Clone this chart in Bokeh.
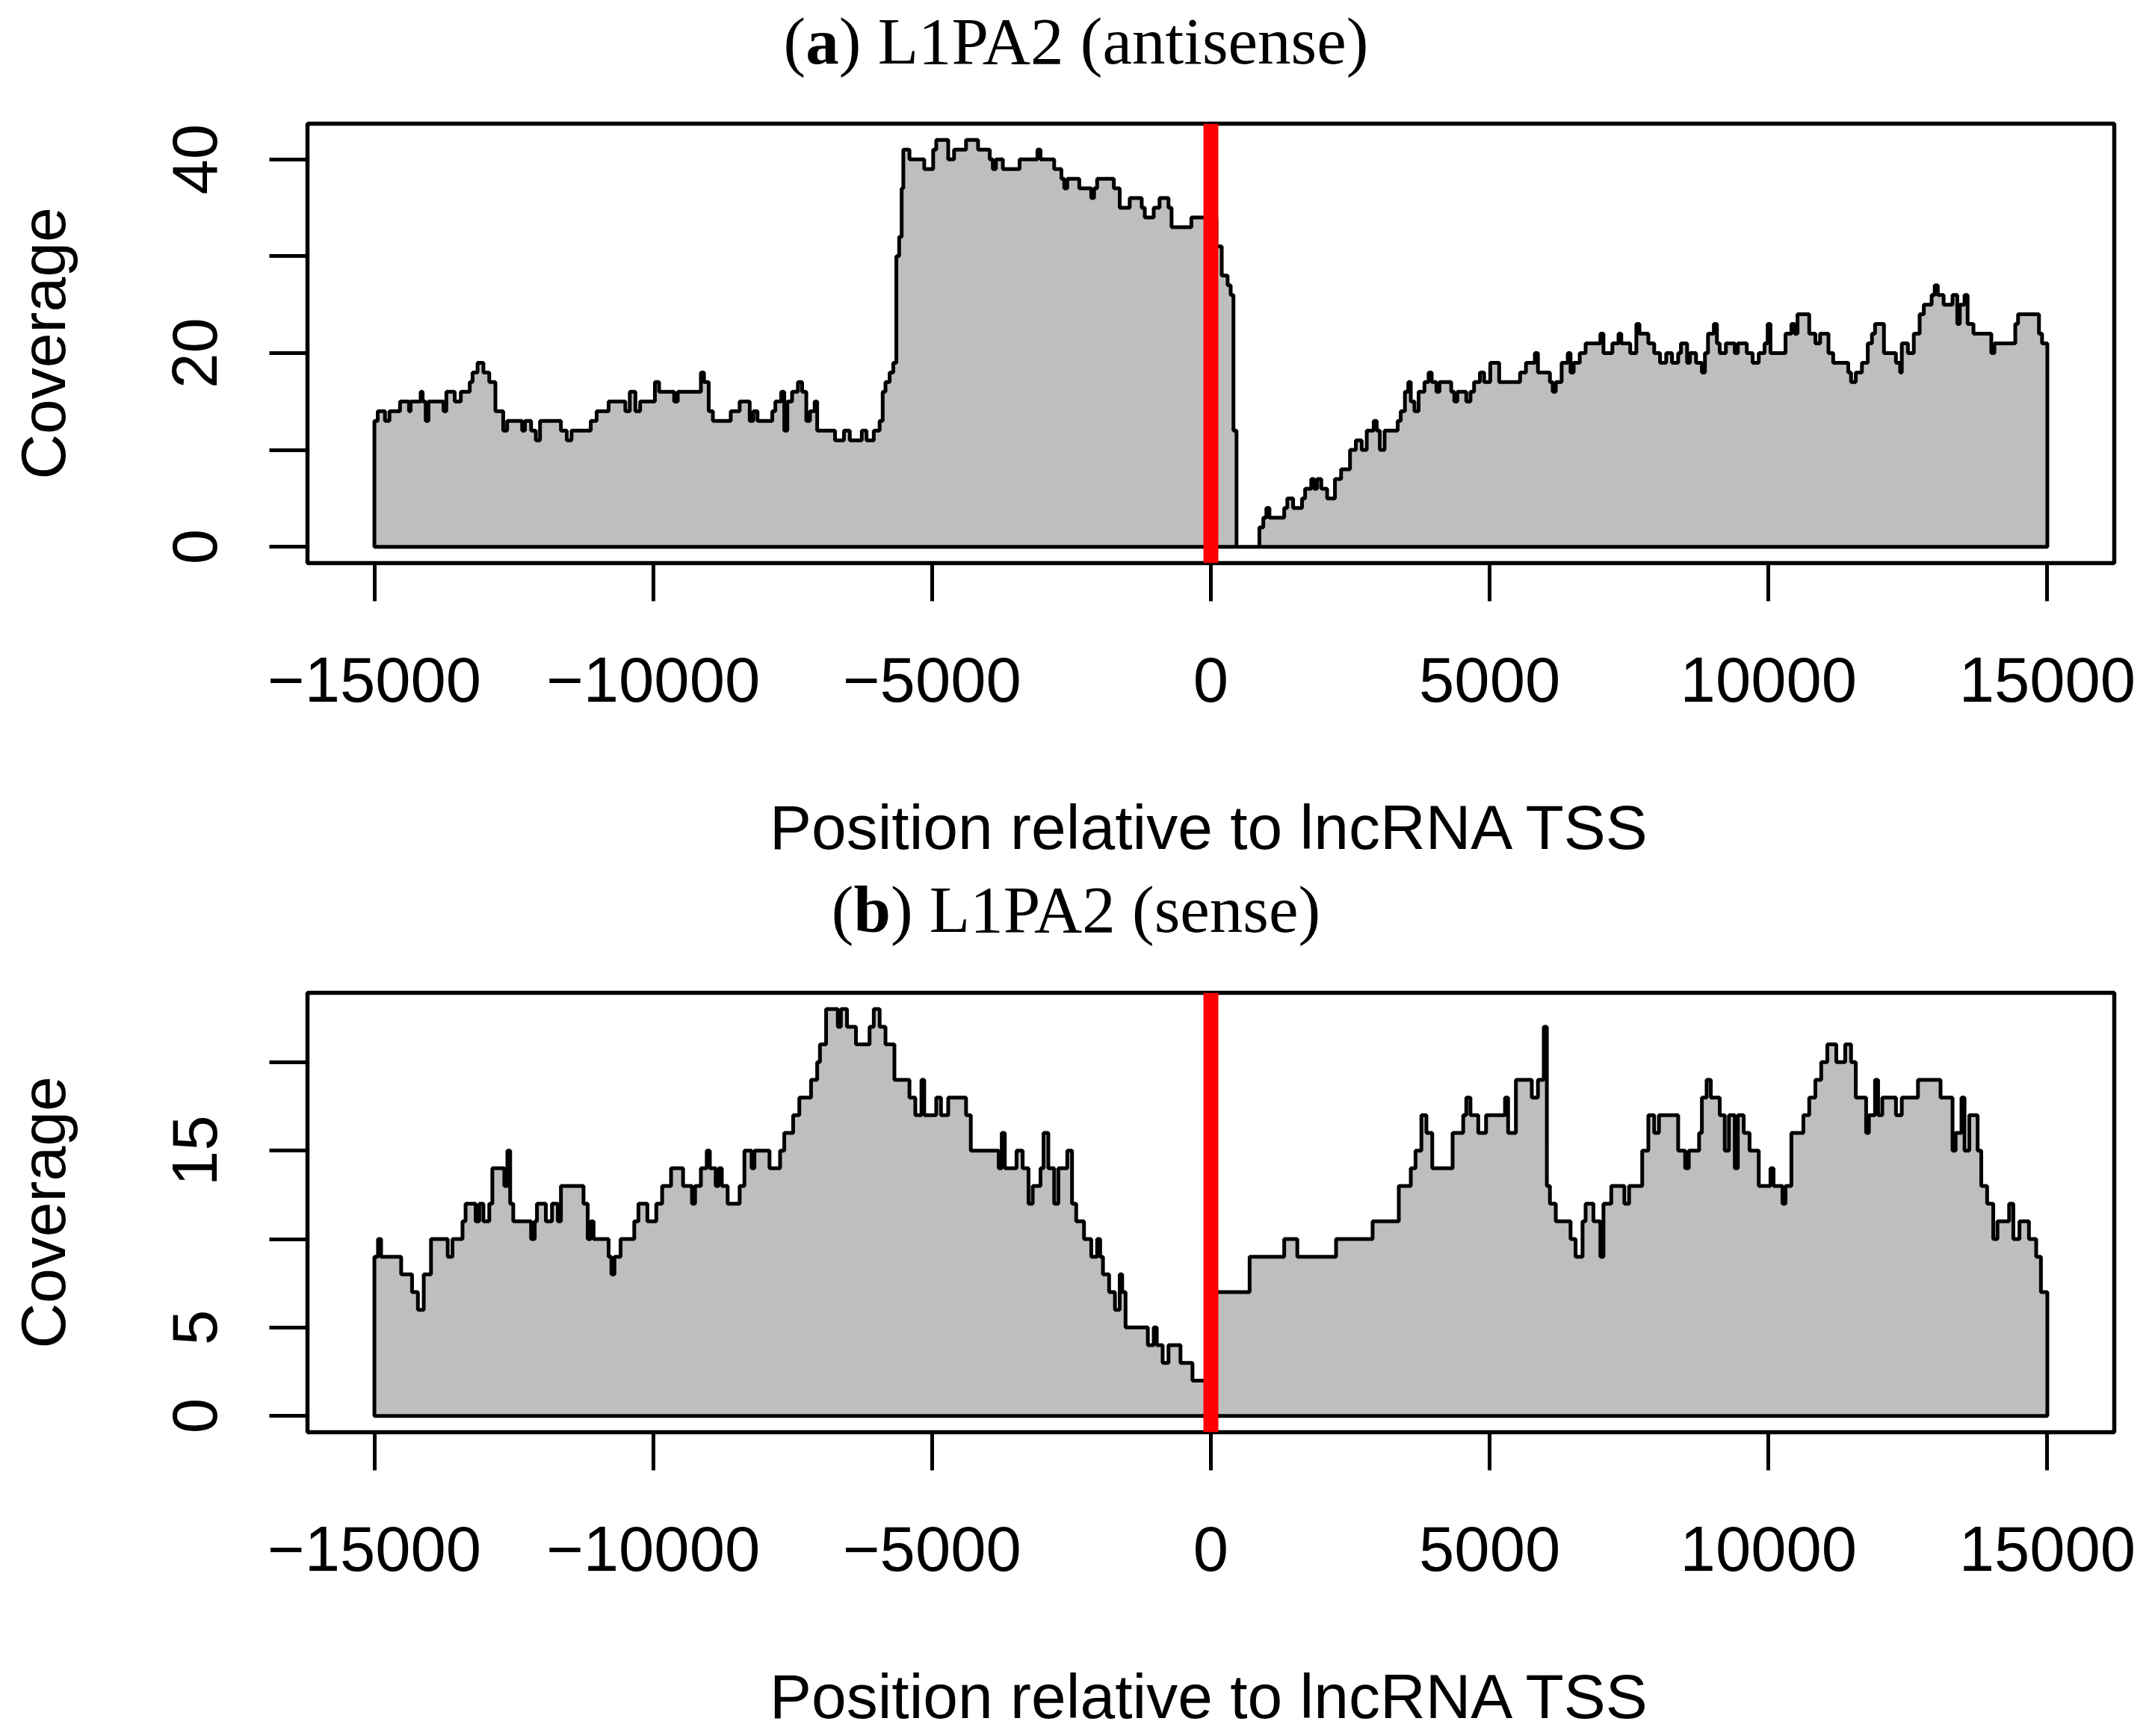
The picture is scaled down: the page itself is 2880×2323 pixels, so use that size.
from bokeh.plotting import figure
from bokeh.models import Range1d, FixedTicker, Span, Div
from bokeh.layouts import column
from bokeh.embed import file_html
from bokeh.resources import INLINE

# ---------------- data ----------------
X_START = -15000
X_END = 15000
X_TICKS = [-15000, -10000, -5000, 0, 5000, 10000, 15000]
X_TICK_LABELS = ["\u221215000", "\u221210000", "\u22125000", "0", "5000", "10000", "15000"]

# panel (a): L1PA2 antisense -- step starts (bp) and coverage
A_POS = [-15000, -14940, -14810, -14730, -14540, -14380, -14350, -14170, -14135, -14080,
         -14030, -13760, -13710, -13560, -13450, -13290, -13240, -13150, -13045, -12940,
         -12830, -12690, -12620, -12350, -12300, -12190, -12105, -12030, -11655, -11550,
         -11465, -11120, -11015, -10800, -10500, -10420, -10320, -10235, -9970, -9895,
         -9625, -9560, -9145, -9090, -9005, -8930, -8610, -8450, -8270, -8205,
         -8130, -7865, -7810, -7705, -7650, -7595, -7510, -7405, -7330, -7255,
         -7190, -7105, -7060, -6740, -6580, -6475, -6260, -6175, -6045, -5940,
         -5885, -5835, -5760, -5695, -5640, -5590, -5545, -5515, -5405, -5140,
         -4980, -4925, -4710, -4605, -4390, -4175, -3965, -3910, -3855, -3730,
         -3430, -3110, -3055, -2810, -2680, -2630, -2575, -2360, -2145, -2095,
         -2040, -1740, -1635, -1455, -1240, -1185, -1025, -920, -760, -705,
         -350, 100, 195, 300, 355, 405, 460, 870, 940, 995,
         1050, 1315, 1370, 1475, 1635, 1690, 1800, 1850, 1905, 1980,
         2085, 2225, 2335, 2495, 2600, 2705, 2795, 2920, 2975, 3030,
         3115, 3350, 3405, 3480, 3540, 3585, 3650, 3725, 3830, 3905,
         3960, 4045, 4100, 4310, 4365, 4420, 4580, 4655, 4720, 4825,
         4900, 5010, 5170, 5545, 5650, 5810, 5865, 6080, 6130, 6185,
         6290, 6400, 6450, 6505, 6615, 6720, 6985, 7040, 7200, 7310,
         7360, 7520, 7630, 7685, 7845, 7950, 8055, 8165, 8270, 8380,
         8430, 8540, 8590, 8700, 8805, 8860, 8915, 9020, 9075, 9125,
         9235, 9395, 9450, 9610, 9715, 9825, 9930, 9985, 10035, 10305,
         10410, 10465, 10520, 10730, 10840, 10925, 11075, 11160, 11430, 11480,
         11565, 11675, 11780, 11855, 11910, 12070, 12285, 12360, 12390, 12500,
         12605, 12710, 12785, 12925, 12980, 13035, 13140, 13300, 13385, 13430,
         13515, 13570, 13675, 13995, 14050, 14425, 14475, 14850, 14905]
A_COV = [13, 14, 13, 14, 15, 14, 15, 16, 15, 13,
         15, 14, 16, 15, 16, 17, 18, 19, 18, 17,
         14, 12, 13, 12, 13, 12, 11, 13, 12, 11,
         12, 13, 14, 15, 14, 16, 14, 15, 17, 16,
         15, 16, 18, 17, 14, 13, 14, 15, 13, 14,
         13, 14, 15, 16, 12, 15, 16, 17, 16, 13,
         14, 15, 12, 11, 12, 11, 12, 11, 12, 13,
         16, 17, 18, 19, 30, 32, 37, 41, 40, 39,
         41, 42, 40, 41, 42, 41, 40, 39, 40, 39,
         40, 41, 40, 39, 38, 37, 38, 37, 36, 37,
         38, 37, 35, 36, 35, 34, 35, 36, 35, 33,
         34, 31, 28, 27, 26, 12, 0, 2, 3, 4,
         3, 4, 5, 4, 5, 6, 7, 6, 7, 6,
         5, 7, 8, 10, 11, 10, 12, 13, 12, 10,
         12, 13, 14, 16, 17, 15, 14, 16, 17, 18,
         17, 16, 17, 16, 15, 16, 15, 16, 17, 18,
         17, 19, 17, 18, 19, 20, 18, 17, 16, 17,
         19, 20, 18, 19, 20, 21, 22, 20, 21, 22,
         21, 20, 23, 22, 21, 20, 19, 20, 19, 20,
         21, 19, 20, 19, 18, 20, 22, 23, 21, 20,
         21, 20, 21, 20, 19, 20, 21, 23, 20, 22,
         23, 22, 24, 22, 21, 22, 20, 19, 18, 17,
         18, 19, 21, 22, 23, 20, 19, 18, 21, 20,
         22, 24, 25, 26, 27, 26, 25, 26, 23, 25,
         26, 23, 22, 20, 21, 23, 24, 22, 21]
A_Y_TICKS = [0, 10, 20, 30, 40]
A_Y_LABELS = ["0", "", "20", "", "40"]

# panel (b): L1PA2 sense
B_POS = [-15000, -14935, -14880, -14520, -14325, -14220, -14115, -13985, -13685, -13600,
         -13420, -13365, -13185, -13120, -13045, -12940, -12885, -12670, -12615, -12565,
         -12510, -12190, -12125, -12085, -11925, -11815, -11710, -11655, -11250, -11175,
         -11120, -11070, -10800, -10750, -10695, -10585, -10340, -10265, -10105, -9945,
         -9840, -9680, -9465, -9305, -9250, -9145, -9040, -8985, -8880, -8825,
         -8770, -8665, -8450, -8365, -8235, -8185, -7915, -7725, -7650, -7490,
         -7380, -7170, -7060, -7010, -6900, -6690, -6635, -6525, -6365, -6120,
         -6045, -5940, -5835, -5675, -5405, -5300, -5190, -5140, -4925, -4840,
         -4710, -4390, -4305, -3805, -3750, -3695, -3485, -3375, -3270, -3195,
         -3055, -3000, -2915, -2810, -2735, -2575, -2490, -2415, -2275, -2145,
         -2040, -1985, -1935, -1825, -1720, -1635, -1590, -1530, -1130, -1025,
         -970, -865, -760, -545, -330, 0, 695, 1315, 1550, 2245,
         2900, 3370, 3585, 3670, 3775, 3865, 3970, 4335, 4525, 4580,
         4655, 4795, 4935, 5275, 5330, 5470, 5755, 5865, 5970, 6025,
         6080, 6185, 6450, 6540, 6665, 6720, 6860, 6985, 7040, 7180,
         7415, 7500, 7735, 7845, 7950, 8035, 8380, 8505, 8570, 8755,
         8805, 8890, 8965, 9125, 9215, 9290, 9395, 9450, 9555, 9660,
         9825, 10035, 10090, 10250, 10305, 10410, 10625, 10730, 10840, 10945,
         11055, 11215, 11375, 11480, 11565, 11750, 11800, 11910, 11965, 12040,
         12285, 12390, 12680, 13085, 13300, 13355, 13460, 13515, 13600, 13750,
         13815, 13920, 14030, 14105, 14315, 14390, 14500, 14670, 14800, 14885]
B_COV = [9, 10, 9, 8, 7, 6, 8, 10, 9, 10,
         11, 12, 11, 12, 11, 12, 14, 13, 15, 12,
         11, 10, 11, 12, 11, 12, 11, 13, 12, 10,
         11, 10, 9, 8, 9, 10, 11, 12, 11, 12,
         13, 14, 13, 12, 13, 14, 15, 14, 13, 14,
         13, 12, 13, 15, 14, 15, 14, 15, 16, 17,
         18, 19, 20, 21, 23, 22, 23, 22, 21, 22,
         23, 22, 21, 19, 18, 17, 19, 17, 18, 17,
         18, 17, 15, 14, 16, 14, 15, 14, 12, 13,
         14, 16, 14, 12, 14, 15, 12, 11, 10, 9,
         10, 9, 8, 7, 6, 8, 7, 5, 4, 5,
         4, 3, 4, 3, 2, 7, 9, 10, 9, 10,
         11, 13, 14, 15, 17, 16, 14, 16, 17, 18,
         17, 16, 17, 18, 16, 19, 18, 19, 22, 13,
         12, 11, 10, 9, 11, 12, 11, 9, 12, 13,
         12, 13, 15, 17, 16, 17, 15, 14, 15, 16,
         18, 19, 18, 17, 15, 17, 14, 17, 16, 15,
         13, 14, 13, 12, 13, 16, 17, 18, 19, 20,
         21, 20, 21, 20, 18, 16, 17, 19, 17, 18,
         17, 18, 19, 18, 15, 16, 18, 15, 17, 15,
         13, 12, 10, 11, 12, 10, 11, 10, 9, 7]
B_Y_TICKS = [0, 5, 10, 15, 20]
B_Y_LABELS = ["0", "5", "", "15", ""]

TSS = 0

# ---------------- helpers ----------------
def step_polygon(pos, cov, x_end):
    xs, ys = [pos[0]], [0]
    for i, (s, v) in enumerate(zip(pos, cov)):
        e = pos[i + 1] if i + 1 < len(pos) else x_end
        xs += [s, e]
        ys += [v, v]
    xs += [x_end]
    ys += [0]
    return xs, ys


SANS = "Liberation Sans"
SERIF = "Liberation Serif"
FIG_W = 2880
FRAME_W = 2418
BORDER_L = 411


def make_panel(pos, cov, ymax, yticks, ylabels, border_top, border_bottom, height):
    pad = 0.04
    xr = (X_END - X_START) * pad
    yr = ymax * pad
    p = figure(width=FIG_W, height=height,
               frame_width=FRAME_W, frame_height=588,
               x_range=Range1d(X_START - xr, X_END + xr),
               y_range=Range1d(-yr, ymax + yr),
               output_backend="svg", toolbar_location=None,
               min_border_left=BORDER_L, min_border_right=FIG_W - BORDER_L - FRAME_W,
               min_border_top=border_top, min_border_bottom=border_bottom)
    p.xgrid.grid_line_color = None
    p.ygrid.grid_line_color = None
    p.outline_line_color = "black"
    p.outline_line_width = 5.5
    p.background_fill_color = "white"
    p.border_fill_color = "white"

    xs, ys = step_polygon(pos, cov, X_END)
    p.patch(xs, ys, fill_color="#BEBEBE", line_color="black", line_width=5)
    p.add_layout(Span(location=TSS, dimension="height", line_color="#FF0000", line_width=20))

    # x axis
    p.xaxis.ticker = FixedTicker(ticks=X_TICKS)
    p.xaxis.major_label_overrides = {t: l for t, l in zip(X_TICKS, X_TICK_LABELS)}
    p.xaxis.axis_label = "Position relative to lncRNA TSS"
    # y axis
    p.yaxis.ticker = FixedTicker(ticks=yticks)
    p.yaxis.major_label_overrides = {t: l for t, l in zip(yticks, ylabels)}
    p.yaxis.axis_label = "Coverage"
    p.yaxis.major_label_orientation = "vertical"

    for ax in (p.xaxis[0], p.yaxis[0]):
        ax.axis_line_color = None
        ax.major_tick_in = 0
        ax.major_tick_out = 51
        ax.major_tick_line_width = 5
        ax.major_tick_line_color = "black"
        ax.minor_tick_line_color = None
        ax.major_label_text_font = SANS
        ax.major_label_text_font_size = "85px"
        ax.major_label_text_color = "black"
        ax.axis_label_text_font = SANS
        ax.axis_label_text_font_size = "84px"
        ax.axis_label_text_font_style = "normal"
        ax.axis_label_text_color = "black"
    p.xaxis.major_label_standoff = 75
    p.xaxis.axis_label_standoff = 118
    p.yaxis.major_label_standoff = 70
    p.yaxis.axis_label_standoff = 124
    return p


def make_title(letter, rest, pad_top):
    html = ('<div style="font-family:\'%s\';font-size:89px;line-height:98px;'
            'padding-top:%dpx;text-align:center;width:%dpx;color:black;white-space:nowrap;">'
            '(<b>%s</b>) %s</div>') % (SERIF, pad_top, FIG_W, letter, rest)
    return Div(text=html, width=FIG_W, height=108 if pad_top > 3 else 100, margin=(0, 0, 0, 0))


title_a = make_title("a", "L1PA2 (antisense)", 6)
panel_a = make_panel(A_POS, A_COV, max(A_COV), A_Y_TICKS, A_Y_LABELS, 57, 415, 1060)
title_b = make_title("b", "L1PA2 (sense)", 0)
panel_b = make_panel(B_POS, B_COV, max(B_COV), B_Y_TICKS, B_Y_LABELS, 60, 399, 1047)

layout = column(title_a, panel_a, title_b, panel_b, spacing=0)

with open("out.html", "w") as f:
    f.write(file_html(layout, INLINE))
